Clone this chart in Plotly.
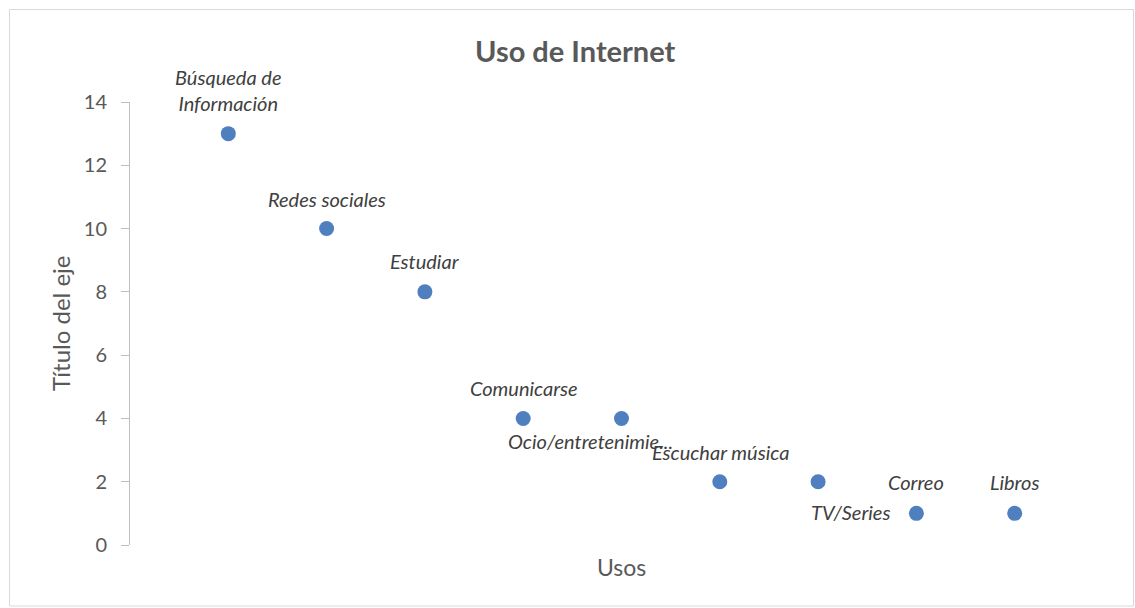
import plotly.graph_objects as go

# Datos del gráfico
usos = ["Búsqueda de<br>Información", "Redes sociales", "Estudiar", "Comunicarse",
        "Ocio/entretenimie...", "Escuchar música", "TV/Series", "Correo", "Libros"]
valores = [13, 10, 8, 4, 4, 2, 2, 1, 1]
posiciones = list(range(1, len(usos) + 1))

# Colocación de cada etiqueta respecto a su punto (desplazamiento en píxeles)
etiqueta_offset = {
    0: (0, 44),
    1: (0, 30),
    2: (0, 31),
    3: (1, 30),
    4: (-31, -23),
    5: (1, 30),
    6: (32, -30),
    7: (0, 31),
    8: (0, 31),
}

FONT = "Lato, 'Open Sans', sans-serif"
W, H = 1135, 608
L, R, T, B = 130, 22, 102, 63
pw, ph = W - L - R, H - T - B

fig = go.Figure()
fig.add_trace(go.Scatter(
    x=posiciones, y=valores, mode="markers",
    marker=dict(size=15, color="#4F7FBE"),
    cliponaxis=False, showlegend=False, hoverinfo="y",
))

for i, (xv, yv, txt) in enumerate(zip(posiciones, valores, usos)):
    dx, dy = etiqueta_offset[i]
    fig.add_annotation(
        x=xv, y=yv, xref="x", yref="y", text=f"<i>{txt}</i>", showarrow=False,
        xshift=dx, yshift=dy, xanchor="center", yanchor="middle",
        font=dict(family=FONT, size=20, color="#404040"), align="center",
    )

def px_x(p):
    return (p - L) / pw

def px_y(p):
    return (H - B - p) / ph

# Título y títulos de ejes
fig.add_annotation(x=px_x(575), y=px_y(51), xref="paper", yref="paper",
                   xanchor="center", yanchor="middle",
                   text="<b>Uso de Internet</b>", showarrow=False,
                   font=dict(family=FONT, size=29, color="#595959"))
fig.add_annotation(x=px_x(621), y=px_y(567), xref="paper", yref="paper",
                   xanchor="center", yanchor="middle",
                   text="Usos", showarrow=False,
                   font=dict(family=FONT, size=23, color="#595959"))
fig.add_annotation(x=px_x(60), y=px_y(324), xref="paper", yref="paper",
                   xanchor="center", yanchor="middle",
                   text="Título del eje", showarrow=False, textangle=-90,
                   font=dict(family=FONT, size=24, color="#595959"))

# Borde del área del gráfico
fig.add_shape(type="rect", xref="paper", yref="paper",
              x0=px_x(9.5), x1=px_x(1133.5), y0=px_y(606), y1=px_y(9.5),
              line=dict(color="#D9D9D9", width=1), fillcolor="rgba(0,0,0,0)")

fig.update_layout(
    width=W, height=H,
    margin=dict(l=L, r=R, t=T, b=B),
    paper_bgcolor="white", plot_bgcolor="white",
    font=dict(family=FONT, color="#595959"),
    xaxis=dict(range=[0, 10], visible=False, showgrid=False, zeroline=False),
    yaxis=dict(range=[0, 14], dtick=2, showgrid=False, zeroline=False,
               showline=True, linecolor="#BFBFBF", linewidth=1,
               ticks="outside", ticklen=8, tickcolor="#BFBFBF",
               tickfont=dict(family=FONT, size=20, color="#595959"),
               ticklabelstandoff=10),
)

fig.write_html("out.html")
